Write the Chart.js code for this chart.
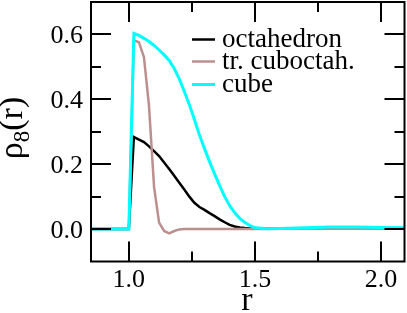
<!DOCTYPE html>
<html><head><meta charset="utf-8">
<script src="https://cdn.jsdelivr.net/npm/chart.js@4/dist/chart.umd.min.js"></script>
<style>html,body{margin:0;padding:0;background:#fff}</style>
</head><body>
<canvas id="c" width="407" height="313"></canvas>
<script>
// ---- data ----
const r = [0.85, 0.90, 0.95, 1.00, 1.02, 1.04, 1.06, 1.08, 1.10, 1.12, 1.14, 1.16, 1.18, 1.20, 1.22, 1.24, 1.26, 1.28, 1.30, 1.32, 1.34, 1.36, 1.38, 1.40, 1.42, 1.44, 1.46, 1.48, 1.50, 1.55, 1.60, 1.70, 1.80, 1.90, 2.00, 2.10];
const octahedron = [0, 0, 0, 0, 0.284, 0.276, 0.268, 0.255, 0.240, 0.225, 0.205, 0.185, 0.164, 0.143, 0.122, 0.100, 0.081, 0.068, 0.059, 0.049, 0.040, 0.030, 0.021, 0.013, 0.008, 0.005, 0.003, 0.002, 0.001, 0.001, 0.001, 0.001, 0.001, 0.001, 0.001, 0.001];
const truncCuboct = [0, 0, 0, 0, 0.582, 0.576, 0.530, 0.380, 0.130, 0.020, -0.006, -0.013, -0.006, -0.001, 0, 0, 0, 0, 0, 0, 0, 0, 0, 0, 0, 0, 0, 0, 0, 0, 0.001, 0.001, 0.001, 0.001, 0.001, 0.001];
const cube = [0, 0, 0, 0, 0.603, 0.597, 0.588, 0.578, 0.566, 0.552, 0.537, 0.520, 0.495, 0.463, 0.424, 0.383, 0.338, 0.290, 0.248, 0.208, 0.170, 0.134, 0.100, 0.072, 0.050, 0.033, 0.020, 0.011, 0.004, 0.001, 0.002, 0.004, 0.006, 0.006, 0.005, 0.004];
const seriesNames = ['octahedron', 'tr. cuboctah.', 'cube'];
const xMajor = [1.0, 1.5, 2.0];
const xMinor = [1.25, 1.75];
const yMajor = [0.0, 0.2, 0.4, 0.6];
const yMinor = [0.1, 0.3, 0.5];

const FONT = "'Liberation Serif', 'Times New Roman', serif";
const colors = ['#000000', '#bc8f8f', '#00ffff'];
const widths = [2.5, 2.5, 3];
const seriesData = [octahedron, truncCuboct, cube];

const toPts = arr => r.map((x, i) => ({x: x, y: arr[i]}));

const framePlugin = {
  id: 'frameTicks',
  afterDatasetsDraw(chart) {
    const {ctx, chartArea: a, scales: {x, y}} = chart;
    ctx.save();
    ctx.strokeStyle = '#000';
    ctx.lineWidth = 2;
    ctx.lineCap = 'butt';
    ctx.beginPath();
    const tx = (vals, len) => vals.forEach(v => {
      const p = Math.round(x.getPixelForValue(v));
      ctx.moveTo(p, a.bottom); ctx.lineTo(p, a.bottom - len);
      ctx.moveTo(p, a.top); ctx.lineTo(p, a.top + len);
    });
    const ty = (vals, len) => vals.forEach(v => {
      const p = Math.round(y.getPixelForValue(v));
      ctx.moveTo(a.left, p); ctx.lineTo(a.left + len, p);
      ctx.moveTo(a.right, p); ctx.lineTo(a.right - len, p);
    });
    tx(xMajor, 20); tx(xMinor, 10);
    ty(yMajor, 20); ty(yMinor, 10);
    ctx.stroke();
    ctx.strokeRect(a.left, a.top, a.right - a.left, a.bottom - a.top);
    ctx.restore();
  },
  afterDraw(chart) {
    const {ctx} = chart;
    ctx.save();
    ctx.fillStyle = '#000';
    // legend
    const baselines = [47, 69, 92];
    ctx.font = '27px ' + FONT;
    ctx.textBaseline = 'alphabetic';
    ctx.textAlign = 'left';
    seriesNames.forEach((name, i) => {
      const ly = baselines[i] - 7.5;
      ctx.strokeStyle = colors[i];
      ctx.lineWidth = widths[i];
      ctx.beginPath(); ctx.moveTo(192, ly); ctx.lineTo(215, ly); ctx.stroke();
      ctx.fillText(name, 222, baselines[i]);
    });
    // x title
    ctx.font = '34px ' + FONT;
    ctx.textAlign = 'center';
    ctx.fillText('r', 247, 310);
    // y title: rho_8(r), rotated
    ctx.translate(22, 128);
    ctx.rotate(-Math.PI / 2);
    const big = '34px ' + FONT, small = '23px ' + FONT;
    ctx.font = big; const w1 = ctx.measureText('\u03C1').width; const w3 = ctx.measureText('(r)').width;
    ctx.font = small; const w2 = ctx.measureText('8').width;
    let sx = -(w1 + w2 + w3) / 2;
    ctx.textAlign = 'left';
    ctx.font = big; ctx.fillText('\u03C1', sx, 0); sx += w1;
    ctx.font = small; ctx.fillText('8', sx, 7); sx += w2;
    ctx.font = big; ctx.fillText('(r)', sx, 0);
    ctx.restore();
  }
};

const noPad = s => { s.paddingTop = 0; s.paddingBottom = 0; s.paddingLeft = 0; s.paddingRight = 0; };

new Chart(document.getElementById('c'), {
  type: 'line',
  data: {
    datasets: seriesData.map((d, i) => ({
      label: seriesNames[i],
      data: toPts(d),
      borderColor: colors[i],
      borderWidth: widths[i],
      pointRadius: 0,
      fill: false,
      tension: 0,
      order: 3 - i
    }))
  },
  options: {
    responsive: false,
    devicePixelRatio: 1,
    animation: false,
    layout: {padding: {left: 0, top: 2, right: 2.5, bottom: 0}},
    plugins: {legend: {display: false}, tooltip: {enabled: false}},
    scales: {
      x: {
        type: 'linear', min: 0.85, max: 2.093,
        afterBuildTicks: s => { s.ticks = xMajor.map(v => ({value: v})); },
        afterFit: s => { s.height = 51.5; noPad(s); },
        grid: {display: false, drawTicks: false},
        border: {display: false},
        ticks: {color: '#000', font: {family: FONT, size: 26}, padding: 3, maxRotation: 0,
                callback: v => Number(v).toFixed(1)}
      },
      y: {
        type: 'linear', min: -0.1, max: 0.7,
        afterBuildTicks: s => { s.ticks = yMajor.map(v => ({value: v})); },
        afterFit: s => { s.width = 91; noPad(s); },
        grid: {display: false, drawTicks: false},
        border: {display: false},
        ticks: {color: '#000', font: {family: FONT, size: 26}, padding: 8, labelOffset: 2,
                callback: v => Number(v).toFixed(1)}
      }
    }
  },
  plugins: [framePlugin]
});
</script>
</body></html>
